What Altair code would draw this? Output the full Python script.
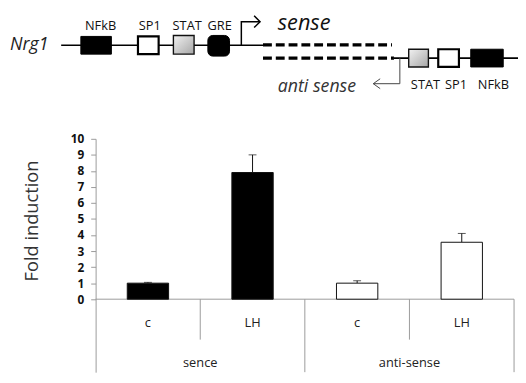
import altair as alt
import pandas as pd
import numpy as np

# ---------------- data ----------------
groups = ["sence", "sence", "anti-sense", "anti-sense"]
treatments = ["c", "LH", "c", "LH"]
fold = [1.0, 7.9, 1.0, 3.55]
err = [0.05, 1.1, 0.15, 0.55]
y_ticks = [0, 1, 2, 3, 4, 5, 6, 7, 8, 9, 10]

# promoter diagram content
site_names = ["NFkB", "SP1", "STAT", "GRE", "STAT", "SP1", "NFkB"]
site_kinds = ["black", "white", "gray", "round", "gray", "white", "black"]
gene_label = ["Nrg1"]
strand_labels = ["sense", "anti sense"]

# ---------------- layout (page pixels) ----------------
W, H = 518, 367
OX, OY = 8, 8

site_x = [82, 140, 176, 211, 415, 445, 478]
site_x2 = [113, 161, 197, 233, 435, 466, 511]
site_y = [34, 34, 33, 33, 47, 47, 47]
site_y2 = [52, 52, 52, 54, 65, 65, 65]
lab_x = [102, 152, 190, 223, 432, 463, 501]
lab_y = [23, 23, 23, 23, 83, 83, 83]

px = alt.Scale(domain=[OX, OX + W], range=[0, W], nice=False, zero=False, padding=0)
py = alt.Scale(domain=[OY, OY + H], range=[0, H], nice=False, zero=False, padding=0)


def dX(f):
    return alt.X(f, scale=px, axis=None)


def dY(f):
    return alt.Y(f, scale=py, axis=None)


sites = pd.DataFrame({"name": site_names, "kind": site_kinds, "x": site_x, "x2": site_x2,
                      "y": site_y, "y2": site_y2, "lx": lab_x, "ly": lab_y})

backbone = pd.DataFrame({"x": [62, 400], "x2": [267, 526], "y": [43, 56]})
dashes = pd.DataFrame({"x": [267, 267], "x2": [398, 400], "y": [42.5, 56]})

paths = pd.DataFrame({
    "path": ["s"] * 3 + ["sh"] * 3 + ["a"] * 3 + ["ah"] * 3,
    "i": [0, 1, 2] * 4,
    "x": [245, 245, 264, 258, 264, 258, 406, 406, 379, 386, 379, 386],
    "y": [43, 19, 19, 13, 19, 25, 56, 82, 82, 77, 82, 87],
})
sense_paths = paths[paths.path.isin(["s", "sh"])]
anti_paths = paths[paths.path.isin(["a", "ah"])]

gene_df = pd.DataFrame({"t": gene_label, "x": [10], "y": [43]})
sense_df = pd.DataFrame({"t": [strand_labels[0]], "x": [282], "y": [20]})
anti_df = pd.DataFrame({"t": [strand_labels[1]], "x": [282], "y": [85]})

gray_fill = alt.Gradient(
    gradient="linear",
    stops=[alt.GradientStop(color="#f2f2f2", offset=0), alt.GradientStop(color="#a6a6a6", offset=1)],
    x1=0, y1=0, x2=1, y2=1,
)

diagram_layers = [
    alt.Chart(backbone).mark_rule(color="#000", strokeWidth=1.6).encode(x=dX("x:Q"), x2="x2:Q", y=dY("y:Q")),
    alt.Chart(dashes).mark_rule(color="#000", strokeWidth=3.2, strokeDash=[9, 4]).encode(
        x=dX("x:Q"), x2="x2:Q", y=dY("y:Q")),
    alt.Chart(sense_paths).mark_line(color="#000", strokeWidth=1.5).encode(
        x=dX("x:Q"), y=dY("y:Q"), order="i:Q", detail="path:N"),
    alt.Chart(anti_paths).mark_line(color="#444", strokeWidth=1).encode(
        x=dX("x:Q"), y=dY("y:Q"), order="i:Q", detail="path:N"),
    alt.Chart(sites[sites.kind == "black"]).mark_rect(fill="#000", stroke="#000", strokeWidth=1).encode(
        x=dX("x:Q"), x2="x2:Q", y=dY("y:Q"), y2="y2:Q"),
    alt.Chart(sites[sites.kind == "round"]).mark_rect(fill="#000", stroke="#000", strokeWidth=1,
                                                      cornerRadius=5).encode(
        x=dX("x:Q"), x2="x2:Q", y=dY("y:Q"), y2="y2:Q"),
    alt.Chart(sites[sites.kind == "white"]).mark_rect(fill="#fff", stroke="#000", strokeWidth=2.2).encode(
        x=dX("x:Q"), x2="x2:Q", y=dY("y:Q"), y2="y2:Q"),
    alt.Chart(sites[sites.kind == "gray"]).mark_rect(fill=gray_fill, stroke="#111", strokeWidth=1.4).encode(
        x=dX("x:Q"), x2="x2:Q", y=dY("y:Q"), y2="y2:Q"),
    alt.Chart(sites).mark_text(font="Open Sans", fontSize=13, color="#111").encode(
        x=dX("lx:Q"), y=dY("ly:Q"), text="name:N"),
    alt.Chart(gene_df).mark_text(font="Open Sans", fontSize=18, fontStyle="italic", align="left",
                                 color="#222").encode(x=dX("x:Q"), y=dY("y:Q"), text="t:N"),
    alt.Chart(sense_df).mark_text(font="Open Sans", fontSize=22, fontStyle="italic", align="left",
                                  color="#111").encode(x=dX("x:Q"), y=dY("y:Q"), text="t:N"),
    alt.Chart(anti_df).mark_text(font="Open Sans", fontSize=18, fontStyle="italic", align="left",
                                 color="#333").encode(x=dX("x:Q"), y=dY("y:Q"), text="t:N"),
]

# ---------------- bar chart ----------------
n = len(groups)
bars = pd.DataFrame({"group": groups, "treatment": treatments, "fold": fold, "err": err})
bars["pos"] = np.arange(n) + 0.5
bars["upper"] = bars["fold"] + bars["err"]
bars["base"] = 0.0
bars["ly"] = -1.48

bounds = np.arange(1, n + 1)
inner = [(b < n) and (groups[b - 1] == groups[b]) for b in bounds]
dividers = pd.DataFrame({"b": bounds, "top": 0.0, "bottom": [-2.52 if i else -4.55 for i in inner]})
baseline = pd.DataFrame({"x": [0], "x2": [n], "y": [0.0]})
grp = bars.groupby("group", sort=False)["pos"].mean().reset_index()
grp["ly"] = -4.0

bx = alt.Scale(domain=[0, n], range=[97 - OX, 522 - OX], nice=False, zero=False, padding=0)
by = alt.Scale(domain=[-4.55, 10], range=[H, 138 - OY], nice=False, zero=False, padding=0)

yaxis = alt.Axis(
    orient="left", values=y_ticks, offset=-(97 - OX), tickSize=5, tickColor="#9a9a9a", domainColor="#9a9a9a",
    labelFont="Open Sans", labelFontSize=12, labelFontWeight="bold", labelColor="#111", labelPadding=7,
    grid=False, title="Fold induction", titleFont="Open Sans", titleFontSize=18.5, titleFontWeight="normal",
    titleColor="#333", titleAngle=270, titleAlign="center", titleBaseline="middle",
    titleX=(32 - OX) - (97 - OX), titleY=221 - OY,
)


def bX(f):
    return alt.X(f, scale=bx, axis=None)


def bY(f):
    return alt.Y(f, scale=by, axis=None)


plot_layers = [
    alt.Chart(baseline).mark_rule(color="#9a9a9a", strokeWidth=1).encode(
        x=bX("x:Q"), x2="x2:Q", y=alt.Y("y:Q", scale=by, axis=yaxis)),
    alt.Chart(dividers).mark_rule(color="#9a9a9a", strokeWidth=1).encode(x=bX("b:Q"), y=bY("top:Q"),
                                                                         y2="bottom:Q"),
    alt.Chart(bars).mark_rule(color="#111", strokeWidth=1).encode(x=bX("pos:Q"), y=bY("fold:Q"), y2="upper:Q"),
    alt.Chart(bars).mark_tick(orient="horizontal", size=8, thickness=1, color="#111").encode(
        x=bX("pos:Q"), y=bY("upper:Q")),
    alt.Chart(bars).mark_bar(size=42, stroke="#111", strokeWidth=1).encode(
        x=bX("pos:Q"),
        y=bY("fold:Q"),
        y2="base:Q",
        fill=alt.Fill("group:N", scale=alt.Scale(domain=["sence", "anti-sense"], range=["#000000", "#ffffff"]),
                      legend=None),
    ),
    alt.Chart(bars).mark_text(font="Open Sans", fontSize=13, color="#222").encode(
        x=bX("pos:Q"), y=bY("ly:Q"), text="treatment:N"),
    alt.Chart(grp).mark_text(font="Open Sans", fontSize=13, color="#222").encode(
        x=bX("pos:Q"), y=bY("ly:Q"), text="group:N"),
]

chart = alt.layer(*(plot_layers + diagram_layers)).resolve_scale(
    x="independent", y="independent"
).resolve_axis(
    x="independent", y="independent"
).properties(
    width=W, height=H, padding=0, autosize=alt.AutoSizeParams(type="none")
).configure_view(strokeWidth=0)

chart.save("out.html", embed_options={"renderer": "svg", "actions": False})
